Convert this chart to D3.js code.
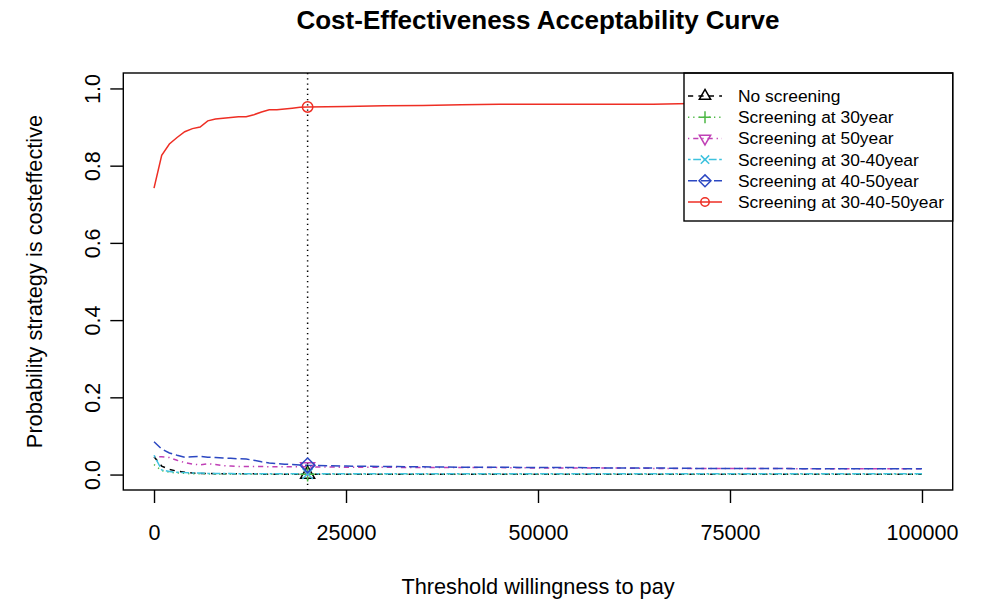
<!DOCTYPE html>
<html>
<head>
<meta charset="utf-8">
<script src="https://cdn.jsdelivr.net/npm/d3@7"></script>
<style>
  body { margin: 0; background: #fff; }
  text { font-family: "Liberation Sans", Arial, sans-serif; fill: #000; }
</style>
</head>
<body>
<svg width="990" height="602"></svg>
<script>
// willingness to pay thresholds
let wtp = [0, 1000, 2000, 3000, 4000, 5000, 6000, 7000, 8000, 9000, 10000,
           11000, 12000, 13000, 14000, 15000, 16000, 17000, 18000, 19000, 20000,
           25000, 30000, 35000, 40000, 45000, 50000, 55000, 60000, 65000, 70000,
           75000, 80000, 85000, 90000, 95000, 100000];

let noScreening = [0.046, 0.022, 0.013, 0.009, 0.006, 0.004, 0.003, 0.003, 0.002, 0.002, 0.002,
                   0.002, 0.002, 0.002, 0.001, 0.001, 0.001, 0.001, 0.001, 0.001, 0.001,
                   0.001, 0.001, 0.001, 0.001, 0.001, 0.001, 0.001, 0.001, 0.001, 0.001,
                   0.001, 0.001, 0.001, 0.001, 0.001, 0.001];
let scr30 = [0.026, 0.010, 0.006, 0.004, 0.003, 0.002, 0.002, 0.002, 0.001, 0.001, 0.001,
             0.001, 0.001, 0.001, 0.001, 0.001, 0.001, 0.001, 0.001, 0.001, 0.001,
             0.001, 0.001, 0.001, 0.001, 0.001, 0.001, 0.001, 0.001, 0.001, 0.001,
             0.001, 0.001, 0.001, 0.001, 0.001, 0.001];
let scr50 = [0.047, 0.046, 0.044, 0.037, 0.031, 0.027, 0.025, 0.028, 0.026, 0.023, 0.022,
             0.021, 0.021, 0.021, 0.021, 0.020, 0.020, 0.020, 0.020, 0.020, 0.020,
             0.019, 0.019, 0.018, 0.018, 0.018, 0.017, 0.017, 0.017, 0.016, 0.016,
             0.016, 0.016, 0.015, 0.015, 0.015, 0.015];
let scr3040 = [0.050, 0.012, 0.008, 0.006, 0.005, 0.004, 0.004, 0.003, 0.003, 0.003, 0.003,
               0.002, 0.002, 0.002, 0.002, 0.002, 0.002, 0.002, 0.002, 0.002, 0.002,
               0.002, 0.002, 0.002, 0.002, 0.002, 0.002, 0.002, 0.002, 0.002, 0.002,
               0.002, 0.002, 0.002, 0.002, 0.002, 0.002];
let scr4050 = [0.085, 0.066, 0.056, 0.050, 0.045, 0.046, 0.047, 0.045, 0.044, 0.043, 0.042,
               0.041, 0.040, 0.037, 0.033, 0.030, 0.028, 0.027, 0.026, 0.025, 0.024,
               0.022, 0.021, 0.020, 0.019, 0.019, 0.018, 0.018, 0.017, 0.017, 0.016,
               0.016, 0.016, 0.015, 0.015, 0.015, 0.015];
let scr304050 = [0.742, 0.827, 0.856, 0.873, 0.888, 0.896, 0.900, 0.916, 0.921, 0.923, 0.925,
                 0.927, 0.927, 0.932, 0.939, 0.945, 0.945, 0.947, 0.949, 0.951, 0.952,
                 0.953, 0.955, 0.956, 0.958, 0.959, 0.959, 0.959, 0.959, 0.959, 0.961,
                 0.961, 0.961, 0.962, 0.962, 0.962, 0.962];

let strategyNames = ['No screening', 'Screening at 30year', 'Screening at 50year',
                     'Screening at 30-40year', 'Screening at 40-50year', 'Screening at 30-40-50year'];
let xTicks = [0, 25000, 50000, 75000, 100000];
let yTicks = [0, 0.2, 0.4, 0.6, 0.8, 1.0];
let chosenWtp = 20000;

let width = 990;
let height = 602;
let plotLeft = 123.3, plotRight = 952.7, plotTop = 73, plotBottom = 490;

// R style line types scaled for this resolution
let styles = [
  { col: '#000000', dash: '5.2 5.2', pch: 'triUp' },
  { col: '#4db845', dash: '1.3 3.9', pch: 'plus' },
  { col: '#c040b6', dash: '1.3 3.9 5.2 3.9', pch: 'triDown' },
  { col: '#3ec2de', dash: '2.6 2.6 7.8 2.6', pch: 'cross' },
  { col: '#2c48c2', dash: '9.1 3.9', pch: 'diamond' },
  { col: '#ee2e24', dash: null, pch: 'circle' }
];

let series = [noScreening, scr30, scr50, scr3040, scr4050, scr304050].map((vals, i) => ({
  name: strategyNames[i],
  style: styles[i],
  points: wtp.map((w, j) => ({ x: w, y: vals[j] }))
}));

let xScale = d3.scaleLinear().domain([-4000, 104000]).range([plotLeft, plotRight]);
let yScale = d3.scaleLinear().domain([-0.04, 1.04]).range([plotBottom, plotTop]);

let svg = d3.select('svg')
            .attr('width', width)
            .attr('height', height);

function symbolPath(type, s) {
  let r = 1.555 * s, hb = 1.347 * s, yb = 0.778 * s, d = 1.414 * s;
  switch (type) {
    case 'triUp':   return `M0,${-r}L${hb},${yb}L${-hb},${yb}Z`;
    case 'triDown': return `M0,${r}L${hb},${-yb}L${-hb},${-yb}Z`;
    case 'plus':    return `M${-d},0H${d}M0,${-d}V${d}`;
    case 'cross':   return `M${-s},${-s}L${s},${s}M${-s},${s}L${s},${-s}`;
    case 'diamond': return `M0,${-d}L${d},0L0,${d}L${-d},0Z`;
    default:        return `M${-s},0A${s},${s} 0 1,0 ${s},0A${s},${s} 0 1,0 ${-s},0Z`;
  }
}

// series lines
let line = d3.line().x(d => xScale(d.x)).y(d => yScale(d.y));

svg.append('g')
  .selectAll('path')
  .data(series)
  .enter()
  .append('path')
    .attr('d', d => line(d.points))
    .attr('fill', 'none')
    .attr('stroke', d => d.style.col)
    .attr('stroke-width', 1.5)
    .attr('stroke-dasharray', d => d.style.dash);

// vertical reference line at the chosen threshold
svg.append('line')
  .attr('x1', xScale(chosenWtp)).attr('x2', xScale(chosenWtp))
  .attr('y1', plotTop).attr('y2', plotBottom)
  .attr('stroke', '#000')
  .attr('stroke-width', 1.5)
  .attr('stroke-dasharray', '1.3 3.9');

// markers at the chosen threshold
let idx = wtp.indexOf(chosenWtp);
svg.append('g')
  .selectAll('path')
  .data(series)
  .enter()
  .append('path')
    .attr('transform', d => `translate(${xScale(chosenWtp)},${yScale(d.points[idx].y)})`)
    .attr('d', d => symbolPath(d.style.pch, 5.2))
    .attr('fill', 'none')
    .attr('stroke', d => d.style.col)
    .attr('stroke-width', 1.5);

// axes
let xAxis = svg.append('g')
  .attr('transform', `translate(0, ${plotBottom})`)
  .call(d3.axisBottom(xScale).tickValues(xTicks).tickSize(13).tickPadding(22).tickFormat(d3.format('d')));
xAxis.select('.domain').remove();
xAxis.selectAll('line').attr('stroke-width', 1.4);
xAxis.selectAll('text').style('font-size', '21.5px').style('font-family', '"Liberation Sans", Arial, sans-serif');

let yAxis = svg.append('g')
  .attr('transform', `translate(${plotLeft}, 0)`)
  .call(d3.axisLeft(yScale).tickValues(yTicks).tickSize(13).tickFormat(d3.format('.1f')));
yAxis.select('.domain').remove();
yAxis.selectAll('line').attr('stroke-width', 1.4);
yAxis.selectAll('text')
  .attr('transform', 'rotate(-90)')
  .attr('x', 0)
  .attr('y', -23)
  .attr('dy', 0)
  .style('text-anchor', 'middle')
  .style('font-size', '21.5px')
  .style('font-family', '"Liberation Sans", Arial, sans-serif');

// legend
let legend = svg.append('g');
legend.append('rect')
  .attr('x', 684).attr('y', plotTop)
  .attr('width', plotRight - 684).attr('height', 221 - plotTop)
  .attr('fill', '#fff')
  .attr('stroke', '#000')
  .attr('stroke-width', 1.4);

let rows = legend.selectAll('.row')
  .data(series)
  .enter()
  .append('g')
    .attr('class', 'row')
    .attr('transform', (d, i) => `translate(0, ${96 + i * 21.2})`);

rows.append('line')
  .attr('x1', 688).attr('x2', 722)
  .attr('stroke', d => d.style.col)
  .attr('stroke-width', 1.5)
  .attr('stroke-dasharray', d => d.style.dash);
rows.append('path')
  .attr('transform', 'translate(705, 0)')
  .attr('d', d => symbolPath(d.style.pch, 4.2))
  .attr('fill', 'none')
  .attr('stroke', d => d.style.col)
  .attr('stroke-width', 1.5);
rows.append('text')
  .attr('x', 738)
  .attr('y', 6)
  .style('font-size', '17.4px')
  .text(d => d.name);

// plot box
svg.append('rect')
  .attr('x', plotLeft).attr('y', plotTop)
  .attr('width', plotRight - plotLeft).attr('height', plotBottom - plotTop)
  .attr('fill', 'none')
  .attr('stroke', '#000')
  .attr('stroke-width', 1.4);

// titles
svg.append('text')
  .attr('x', (plotLeft + plotRight) / 2)
  .attr('y', 29)
  .style('text-anchor', 'middle')
  .style('font-size', '26px')
  .style('font-weight', 'bold')
  .text('Cost-Effectiveness Acceptability Curve');

svg.append('text')
  .attr('x', (plotLeft + plotRight) / 2)
  .attr('y', 594)
  .style('text-anchor', 'middle')
  .style('font-size', '21.75px')
  .text('Threshold willingness to pay');

svg.append('text')
  .attr('transform', 'rotate(-90)')
  .attr('x', -(plotTop + plotBottom) / 2)
  .attr('y', 42)
  .style('text-anchor', 'middle')
  .style('font-size', '21.75px')
  .text('Probability strategy is costeffective');
</script>
</body>
</html>
